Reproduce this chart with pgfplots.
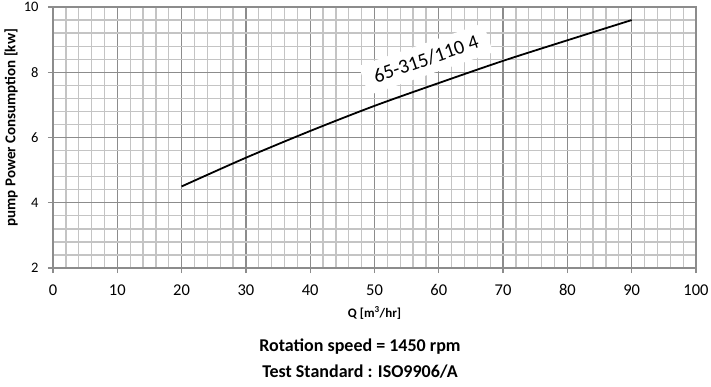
\documentclass[border=0pt]{standalone}
\usepackage{pgfplots}
\pgfplotsset{compat=1.18}
\usepackage{fontspec}
\setmainfont{Carlito}
\definecolor{majgrid}{HTML}{8C8C8C}
\definecolor{mingrid}{HTML}{C4C4C4}
\begin{document}
\begin{tikzpicture}
\useasboundingbox (-53pt,-118pt) rectangle (658pt,268pt);
\begin{axis}[
  scale only axis,
  width=643pt, height=261pt,
  xmin=0, xmax=100, ymin=2, ymax=10,
  xtick={0,10,...,100}, ytick={2,4,...,10},
  minor x tick num=4, minor y tick num=4,
  grid=both,
  major grid style={majgrid, line width=1.3pt},
  minor grid style={mingrid, line width=1.3pt},
  axis line style={majgrid, line width=1.3pt},
  tick style={majgrid, line width=1.3pt},
  minor tick length=0pt,
  major tick length=5pt,
  tick align=outside,
  xtick pos=bottom, ytick pos=left,
  /pgf/number format/assume math mode=true,
  xticklabel style={font=\fontsize{16.5}{18}\selectfont, text=black, yshift=-8pt},
  yticklabel style={font=\fontsize{14.5}{16}\selectfont, text=black, xshift=-6pt},
  xlabel={\textbf{Q [m\textsuperscript{3}/hr]}},
  xlabel style={font=\fontsize{13}{15}\selectfont, at={(axis description cs:0.5,0)}, anchor=center, yshift=-45pt},
  ylabel={\textbf{pump Power Consumption [kw]}},
  ylabel style={font=\fontsize{15}{17}\selectfont, at={(axis description cs:-0.0653,0.538)}, anchor=center},
  clip=false,
]
\node[fill=white, rotate=19, inner xsep=11pt, inner ysep=8pt, font=\fontsize{20}{22}\selectfont] at (axis cs:58.0,8.40) {65-315/110 4};
\addplot[black, line width=1.8pt, smooth] coordinates {
  (20,4.50) (30,5.38) (40,6.20) (50,6.97) (60,7.67) (70,8.35) (80,8.98) (90,9.60)
};
\node[font=\fontsize{18}{20}\selectfont\bfseries, anchor=center] at ([xshift=307pt, yshift=-79pt]axis cs:0,2) {Rotation speed = 1450 rpm};
\node[font=\fontsize{18}{20}\selectfont\bfseries, anchor=center] at ([xshift=307pt, yshift=-104pt]axis cs:0,2) {Test Standard : ISO9906/A};
\end{axis}
\end{tikzpicture}
\end{document}
